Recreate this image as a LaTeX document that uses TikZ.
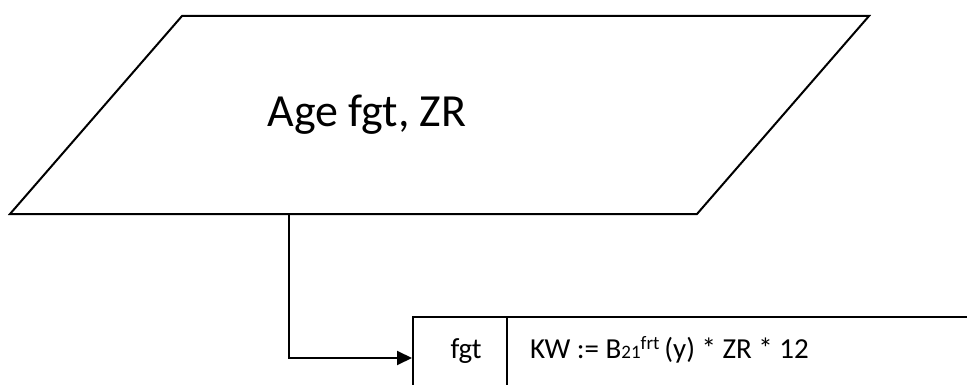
\documentclass[tikz,border=0pt]{standalone}
\usepackage{fontspec}
\setmainfont{Carlito}
\usetikzlibrary{arrows.meta}

\tikzset{
    lbl/.style={inner sep=0pt, anchor=base},
    big/.style={font=\fontsize{46}{52}\selectfont},
    small/.style={font=\fontsize{29}{35}\selectfont}
}
\newcommand{\lowidx}[1]{{\fontsize{19}{20}\selectfont #1}}
\newcommand{\highidx}[1]{\raisebox{9pt}{\fontsize{19}{20}\selectfont #1}}

\begin{document}
\begin{tikzpicture}[x=1pt,y=-1pt,line width=2pt,>={Triangle[length=15pt,width=14pt]}]
    \useasboundingbox (0,0) rectangle (967,385);
    \clip (0,0) rectangle (967,385);

    % input parallelogram
    \coordinate (tl) at (182,16);
    \coordinate (tr) at (869,16);
    \coordinate (br) at (697,214);
    \coordinate (bl) at (10,214);
    \draw[line join=miter] (tl) -- (tr) -- (br) -- (bl) -- cycle;
    \node[lbl,big] (input) at (367,127) {Age fgt, ZR};
    \coordinate (out) at (289,214);

    % calculation box
    \node[draw, anchor=north west, inner sep=0pt, minimum width=600pt, minimum height=100pt] (calc) at (412,316) {};
    \coordinate (sep) at (507,316);
    \draw[line width=1.3pt] (sep) -- (sep |- calc.south);
    \node[lbl,small] (fgt) at (466,358) {fgt};
    \node[lbl,small,anchor=base west] (kw) at (529,358) {KW := B\lowidx{21}\highidx{frt}\,(y) * ZR * 12};

    \draw[->] (out) |- (calc.west |- kw.base);
\end{tikzpicture}
\end{document}
